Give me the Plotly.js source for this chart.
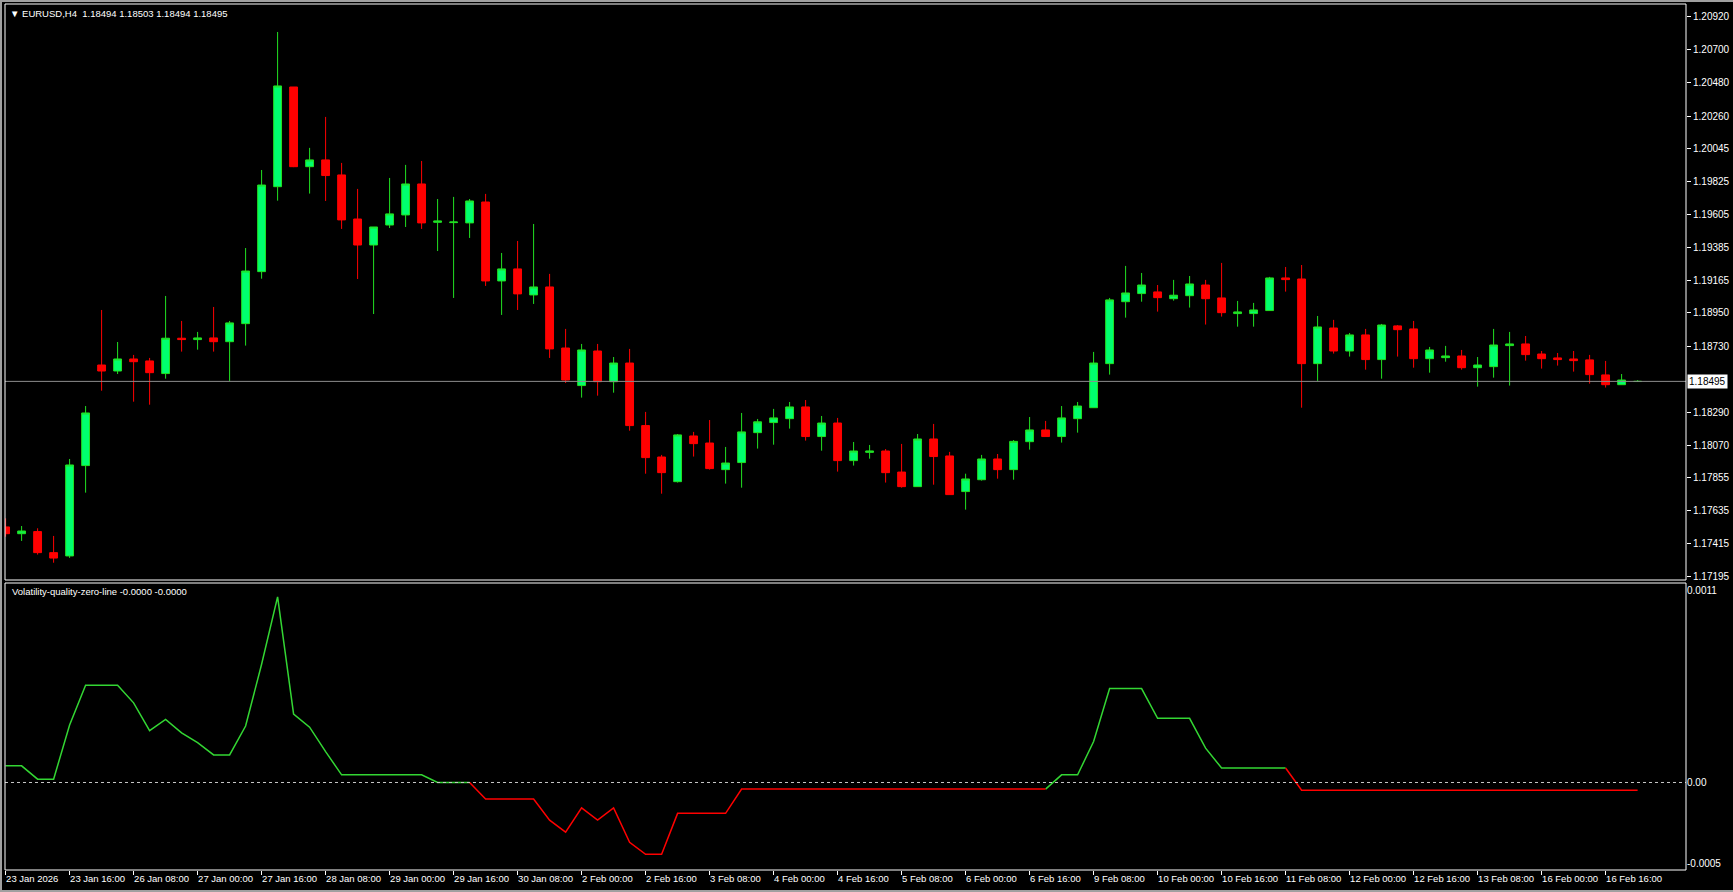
<!DOCTYPE html>
<html>
<head>
<meta charset="utf-8">
<script src="https://cdn.plot.ly/plotly-3.0.1.min.js"></script>
<style>html,body{margin:0;padding:0;background:#000;}#chart{width:1733px;height:892px;}</style>
</head>
<body>
<div id="chart"></div>
<script>
// ---- data (EURUSD H4, bar index 0 = 23 Jan 2026 00:00) ----
const openP = [1.17527,1.17482,1.17496,1.17356,1.17334,1.17935,1.18604,1.18564,1.18644,1.18631,
1.18547,1.18782,1.18773,1.18784,1.18759,1.18879,1.19225,1.19790,1.20453,1.19923,
1.19968,1.19868,1.19575,1.19402,1.19535,1.19602,1.19808,1.19553,1.19551,1.19549,
1.19688,1.19163,1.19243,1.19070,1.19123,1.18717,1.18467,1.18697,1.18493,1.18617,
1.18201,1.17992,1.17828,1.18132,1.18085,1.17908,1.17955,1.18154,1.18221,1.18247,
1.18325,1.18128,1.18218,1.17968,1.18023,1.18032,1.17892,1.17795,1.18112,1.17999,
1.17762,1.17841,1.17979,1.17908,1.18094,1.18172,1.18128,1.18247,1.18320,1.18613,
1.19025,1.19079,1.19090,1.19045,1.19065,1.19136,1.19050,1.18946,1.18946,1.18966,
1.19183,1.19176,1.18613,1.18850,1.18697,1.18804,1.18640,1.18864,1.18844,1.18646,
1.18653,1.18664,1.18586,1.18593,1.18733,1.18744,1.18677,1.18651,1.18644,1.18638,
1.18538,1.18473,1.18494];
const highP = [1.17584,1.17533,1.17518,1.17467,1.17979,1.18331,1.18970,1.18757,1.18671,1.18651,
1.19063,1.18897,1.18824,1.18990,1.18897,1.19382,1.19901,1.20819,1.20453,1.20048,
1.20254,1.19948,1.19775,1.19522,1.19848,1.19935,1.19961,1.19708,1.19722,1.19708,
1.19742,1.19349,1.19429,1.19542,1.19210,1.18844,1.18744,1.18744,1.18657,1.18711,
1.18292,1.18006,1.18145,1.18159,1.18238,1.18059,1.18285,1.18245,1.18312,1.18358,
1.18371,1.18265,1.18252,1.18092,1.18072,1.18045,1.18079,1.18145,1.18212,1.18026,
1.17881,1.18006,1.18012,1.18105,1.18258,1.18232,1.18331,1.18358,1.18691,1.19050,
1.19263,1.19216,1.19136,1.19170,1.19196,1.19170,1.19283,1.19030,1.19017,1.19190,
1.19256,1.19269,1.18930,1.18904,1.18817,1.18844,1.18877,1.18870,1.18897,1.18724,
1.18731,1.18704,1.18657,1.18844,1.18824,1.18797,1.18697,1.18684,1.18697,1.18671,
1.18631,1.18544,1.18503];
const lowP = [1.17462,1.17434,1.17343,1.17289,1.17321,1.17755,1.18433,1.18544,1.18360,1.18340,
1.18513,1.18693,1.18706,1.18693,1.18498,1.18733,1.19178,1.19697,1.19920,1.19744,
1.19695,1.19509,1.19176,1.18943,1.19515,1.19522,1.19509,1.19362,1.19050,1.19449,
1.19130,1.18937,1.18970,1.19010,1.18651,1.18484,1.18387,1.18400,1.18420,1.18167,
1.17881,1.17748,1.17822,1.17995,1.17908,1.17815,1.17788,1.18048,1.18074,1.18181,
1.18101,1.18034,1.17895,1.17935,1.17981,1.17822,1.17788,1.17795,1.17808,1.17742,
1.17642,1.17835,1.17848,1.17841,1.18041,1.18128,1.18088,1.18154,1.18320,1.18540,
1.18919,1.19025,1.18959,1.19032,1.18986,1.18873,1.18926,1.18859,1.18859,1.18966,
1.19092,1.18320,1.18498,1.18680,1.18660,1.18573,1.18513,1.18660,1.18586,1.18553,
1.18626,1.18573,1.18460,1.18520,1.18467,1.18633,1.18580,1.18600,1.18560,1.18480,
1.18454,1.18473,1.18494];
const closeP = [1.17482,1.17500,1.17356,1.17320,1.17939,1.18285,1.18564,1.18644,1.18626,1.18553,
1.18782,1.18773,1.18784,1.18759,1.18884,1.19229,1.19801,1.20460,1.19923,1.19968,
1.19864,1.19569,1.19402,1.19522,1.19609,1.19808,1.19549,1.19562,1.19555,1.19695,
1.19163,1.19243,1.19077,1.19123,1.18711,1.18504,1.18704,1.18493,1.18617,1.18201,
1.17988,1.17888,1.18139,1.18081,1.17915,1.17952,1.18159,1.18226,1.18252,1.18325,
1.18128,1.18218,1.17968,1.18032,1.18032,1.17888,1.17795,1.18112,1.17995,1.17742,
1.17846,1.17979,1.17908,1.18096,1.18172,1.18128,1.18252,1.18331,1.18617,1.19037,
1.19083,1.19136,1.19052,1.19068,1.19143,1.19045,1.18952,1.18957,1.18970,1.19183,
1.19172,1.18613,1.18857,1.18697,1.18804,1.18640,1.18870,1.18839,1.18646,1.18704,
1.18664,1.18586,1.18604,1.18737,1.18744,1.18673,1.18646,1.18640,1.18633,1.18540,
1.18473,1.18504,1.18495];
// Volatility-quality-zero-line indicator values
const vq = [0.000091,0.000091,0.000018,0.000018,0.000315,0.000532,0.000532,0.000532,0.000436,0.000284,
0.000345,0.000272,0.000218,0.000151,0.000151,0.000309,0.000647,0.001016,0.000375,0.000303,
0.000169,0.000042,0.000042,0.000042,0.000042,0.000042,0.000042,0,0,0,
-0.000091,-0.000091,-0.000091,-0.000091,-0.000206,-0.000272,-0.000139,-0.000206,-0.000139,-0.000327,
-0.000393,-0.000393,-0.000169,-0.000169,-0.000169,-0.000169,-0.000036,-0.000036,-0.000036,-0.000036,
-0.000036,-0.000036,-0.000036,-0.000036,-0.000036,-0.000036,-0.000036,-0.000036,-0.000036,-0.000036,
-0.000036,-0.000036,-0.000036,-0.000036,-0.000036,-0.000036,0.000042,0.000042,0.000224,0.000514,
0.000514,0.000514,0.000351,0.000351,0.000351,0.000188,0.000079,0.000079,0.000079,0.000079,
0.000079,-0.000042,-0.000042,-0.000042,-0.000042,-0.000042,-0.000042,-0.000042,-0.000042,-0.000042,
-0.000042,-0.000042,-0.000042,-0.000042,-0.000042,-0.000042,-0.000042,-0.000042,-0.000042,-0.000042,
-0.000042,-0.000042,-0.000042];
const tickIdx = [0,4,8,12,16,20,24,28,32,36,40,44,48,52,56,60,64,68,72,76,80,84,88,92,96,100];
const tickText = ["23 Jan 2026","23 Jan 16:00","26 Jan 08:00","27 Jan 00:00","27 Jan 16:00","28 Jan 08:00",
"29 Jan 00:00","29 Jan 16:00","30 Jan 08:00","2 Feb 00:00","2 Feb 16:00","3 Feb 08:00","4 Feb 00:00",
"4 Feb 16:00","5 Feb 08:00","6 Feb 00:00","6 Feb 16:00","9 Feb 08:00","10 Feb 00:00","10 Feb 16:00",
"11 Feb 08:00","12 Feb 00:00","12 Feb 16:00","13 Feb 08:00","16 Feb 00:00","16 Feb 16:00"];
const priceTicks = [1.20920,1.20700,1.20480,1.20260,1.20045,1.19825,1.19605,1.19385,1.19165,1.18950,
1.18730,1.18290,1.18070,1.17855,1.17635,1.17415,1.17195];
const priceTickText = priceTicks.map(v => v.toFixed(5));
const lastPrice = 1.18495;
const vqTickVals = [0.001053, 0, -0.000441];
const vqTickText = ["0.0011", "0.00", "-0.0005"];
const headerText = "\u25BC EURUSD,H4  1.18494 1.18503 1.18494 1.18495";
const indText = "Volatility-quality-zero-line -0.0000 -0.0000";

// ---- build ----
const W = 1733, H = 892, ML = 5, MR = 47, MT = 4, MB = 22;
const PW = W - ML - MR, PH = H - MT - MB;
const px = x => (x - ML) / PW;
const py = y => (H - MB - y) / PH;

const idx = openP.map((_, i) => i);
const green = vq.map((v, i) => (v >= 0 || (i + 1 < vq.length && vq[i + 1] >= 0)) ? v : null);
const red = vq.map((v, i) => (v < 0 || (i + 1 < vq.length && vq[i + 1] < 0)) ? v : null);

const FONT = "Liberation Sans, Arial, sans-serif";

const traces = [
  {
    type: 'candlestick', x: idx, open: openP, high: highP, low: lowP, close: closeP,
    xaxis: 'x', yaxis: 'y',
    increasing: {line: {color: '#22e022', width: 1}, fillcolor: '#00ff6e'},
    decreasing: {line: {color: '#ff0000', width: 1}, fillcolor: '#ff0000'},
    whiskerwidth: 0, hoverinfo: 'skip', showlegend: false
  },
  {type: 'scatter', mode: 'lines', x: idx, y: green, xaxis: 'x', yaxis: 'y2',
   line: {color: '#33d633', width: 1.5}, connectgaps: false, hoverinfo: 'skip', showlegend: false},
  {type: 'scatter', mode: 'lines', x: idx, y: red, xaxis: 'x', yaxis: 'y2',
   line: {color: '#ff0000', width: 1.5}, connectgaps: false, hoverinfo: 'skip', showlegend: false}
];

const layout = {
  width: W, height: H,
  margin: {l: ML, r: MR, t: MT, b: MB, pad: 0},
  paper_bgcolor: '#000', plot_bgcolor: '#000',
  font: {family: FONT, size: 10, color: '#ffffff'},
  showlegend: false,
  boxgap: 0.3,
  xaxis: {
    range: [-0.0375, 105.025], anchor: 'y2', showgrid: false, zeroline: false, showline: false,
    tickmode: 'array', tickvals: tickIdx, ticktext: tickText, tickangle: 0,
    ticks: 'outside', ticklen: 4, tickcolor: '#ffffff', tickwidth: 1,
    ticklabelposition: 'outside right',
    tickfont: {family: FONT, size: 9.5, color: '#ffffff'},
    rangeslider: {visible: false}, fixedrange: true
  },
  yaxis: {
    domain: [py(580), 1], range: [1.17174, 1.21005], side: 'right', anchor: 'x',
    showgrid: false, zeroline: false, showline: false,
    tickmode: 'array', tickvals: priceTicks, ticktext: priceTickText,
    ticks: 'outside', ticklen: 4, tickcolor: '#ffffff',
    tickfont: {family: FONT, size: 10, color: '#ffffff'}, fixedrange: true
  },
  yaxis2: {
    domain: [0, py(583)], range: [-0.000479, 0.001092], side: 'right', anchor: 'x',
    showgrid: false, zeroline: false, showline: false,
    tickmode: 'array', tickvals: vqTickVals, ticktext: vqTickText,
    ticks: '', tickfont: {family: FONT, size: 10, color: '#ffffff'}, fixedrange: true
  },
  shapes: [
    {type: 'line', xref: 'paper', yref: 'y', x0: 0, x1: 1, y0: lastPrice, y1: lastPrice,
     line: {color: '#8c8c8c', width: 1}},
    {type: 'line', xref: 'paper', yref: 'y2', x0: 0, x1: 1, y0: 0, y1: 0,
     line: {color: '#c8c8c8', width: 1, dash: '3px,3px'}},
    {type: 'rect', xref: 'paper', yref: 'paper', x0: 0, x1: 1, y0: py(580), y1: 1,
     line: {color: '#ffffff', width: 1}},
    {type: 'rect', xref: 'paper', yref: 'paper', x0: 0, x1: 1, y0: 0, y1: py(583),
     line: {color: '#ffffff', width: 1}},
    {type: 'line', xref: 'paper', yref: 'paper', x0: px(0), x1: px(W), y0: py(1), y1: py(1),
     line: {color: '#a0a0a0', width: 2}},
    {type: 'line', xref: 'paper', yref: 'paper', x0: px(1), x1: px(1), y0: py(0), y1: py(H),
     line: {color: '#a0a0a0', width: 2}},
    {type: 'line', xref: 'paper', yref: 'paper', x0: px(0), x1: px(W), y0: py(H - 1), y1: py(H - 1),
     line: {color: '#a0a0a0', width: 2}}
  ],
  annotations: [
    {xref: 'paper', yref: 'paper', x: px(8), y: py(13), xanchor: 'left', yanchor: 'middle',
     text: headerText, showarrow: false, font: {family: FONT, size: 9.5, color: '#ffffff'}},
    {xref: 'paper', yref: 'paper', x: px(10), y: py(591), xanchor: 'left', yanchor: 'middle',
     text: indText, showarrow: false, font: {family: FONT, size: 9.5, color: '#ffffff'}},
    {xref: 'paper', yref: 'y', x: 1, y: lastPrice, xanchor: 'left', yanchor: 'middle', xshift: 1,
     text: lastPrice.toFixed(5), showarrow: false, bgcolor: '#ffffff', borderpad: 1,
     font: {family: FONT, size: 10, color: '#000000'}}
  ]
};

Plotly.newPlot('chart', traces, layout, {staticPlot: true, displayModeBar: false});
</script>
</body>
</html>
